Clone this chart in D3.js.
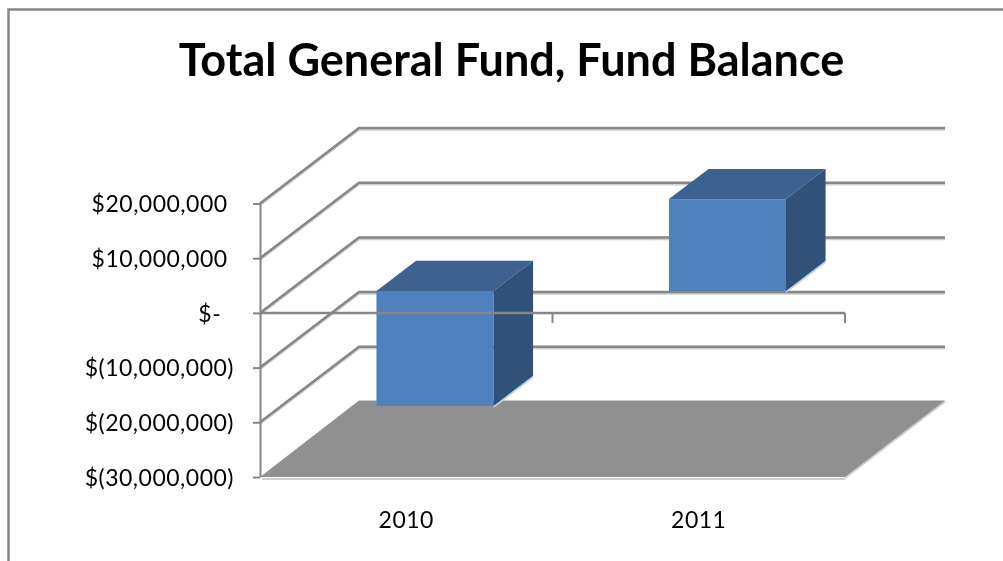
<!DOCTYPE html>
<html>

<head>
  <title>Total General Fund, Fund Balance</title>
  <script src="https://cdnjs.cloudflare.com/ajax/libs/d3/7.8.5/d3.min.js"></script>
</head>

<body style="margin: 0; background-color: #ffffff;">
  <!-- the reference is a soft upscaled picture, hence the small blur -->
  <svg width="1003" height="561" id="mainsvg" style="display: block; background-color: #ffffff; filter: blur(0.4px);"></svg>
  <script>
    const title = 'Total General Fund, Fund Balance';
    const categories = ['2010', '2011'];
    const values = [-21000000, 16800000];
    const yTicks = [20000000, 10000000, 0, -10000000, -20000000, -30000000];
    const yTickLabels = ['$20,000,000 ', '$10,000,000 ', '$-  ', '$(10,000,000)', '$(20,000,000)', '$(30,000,000)'];

    const svg = d3.select('#mainsvg');
    const fontFamily = 'Lato, Carlito, sans-serif';
    const lineColor = '#868686';
    const shadowColor = '#cfcfcf';

    // front plane of the 3d box
    const xScale = d3.scaleBand().domain(categories).range([260, 845]);
    const yScale = d3.scaleLinear().domain([-30000000, 20000000]).range([477, 203.5]);

    // depth: 0 = front of the box, 1 = back wall
    const depthX = d3.scaleLinear().domain([0, 1]).range([0, 99]);
    const depthY = d3.scaleLinear().domain([0, 1]).range([0, -75.5]);
    const backRight = 945;
    const barWidth = 0.4;
    const barDepth = [0.29, 0.69];

    const line = d3.line();

    // outer frame, only top and left are inside the crop
    svg.append('path')
      .attr('d', line([[8.5, 561], [8.5, 9.5], [1003, 9.5]]))
      .attr('fill', 'none')
      .attr('stroke', lineColor)
      .attr('stroke-width', 2.5);

    // floor
    const floorY = yScale(-30000000);
    svg.append('path')
      .attr('d', line([[845, floorY + 2], [262, floorY + 2]]))
      .attr('stroke', shadowColor)
      .attr('stroke-width', 2);
    svg.append('path')
      .attr('d', line([[845, floorY + 1], [backRight, floorY + depthY(1)]]))
      .attr('stroke', shadowColor)
      .attr('stroke-width', 2);
    svg.append('path')
      .attr('d', line([
        [xScale.range()[0], floorY],
        [xScale.range()[1], floorY],
        [backRight, floorY + depthY(1) - 1],
        [xScale.range()[0] + depthX(1), floorY + depthY(1) - 1]
      ]) + 'Z')
      .attr('fill', '#909090');

    // gridlines: diagonal on the side wall, then flat along the back wall
    const gridTicks = yTicks.filter(d => d !== -30000000);
    const gridPoints = d => [
      [xScale.range()[0], yScale(d)],
      [xScale.range()[0] + depthX(1), yScale(d) + depthY(1)],
      [backRight, yScale(d) + depthY(1)]
    ];
    svg.append('g').selectAll('path').data(gridTicks).join('path')
      .attr('d', d => line(gridPoints(d)))
      .attr('transform', 'translate(0, 1.5)')
      .attr('fill', 'none')
      .attr('stroke', shadowColor)
      .attr('stroke-width', 2.5);
    svg.append('g').selectAll('path').data(gridTicks).join('path')
      .attr('d', d => line(gridPoints(d)))
      .attr('fill', 'none')
      .attr('stroke', lineColor)
      .attr('stroke-width', 2.5);

    // bars, each one has a front, top and right face
    const barData = categories.map((c, i) => {
      const mid = xScale(c) + xScale.bandwidth() / 2;
      const half = xScale.bandwidth() * barWidth / 2;
      return {
        x0: mid - half + depthX(barDepth[0]),
        x1: mid + half + depthX(barDepth[0]),
        yTop: yScale(Math.max(values[i], 0)) + depthY(barDepth[0]),
        yBottom: yScale(Math.min(values[i], 0)) + depthY(barDepth[0])
      };
    });
    const backDx = depthX(barDepth[1] - barDepth[0]);
    const backDy = depthY(barDepth[1] - barDepth[0]);

    const bars = svg.append('g').selectAll('g').data(barData).join('g');
    bars.append('path')
      .attr('d', d => line([[d.x1, d.yBottom + 1], [d.x1 + backDx, d.yBottom + backDy + 1]]))
      .attr('stroke', '#c3cfdf')
      .attr('stroke-width', 2);
    bars.append('path')
      .attr('d', d => line([[d.x0, d.yTop], [d.x1, d.yTop], [d.x1 + backDx, d.yTop + backDy], [d.x0 + backDx, d.yTop + backDy]]) + 'Z')
      .attr('fill', '#3d628f');
    bars.append('path')
      .attr('d', d => line([[d.x1, d.yTop], [d.x1 + backDx, d.yTop + backDy], [d.x1 + backDx, d.yBottom + backDy], [d.x1, d.yBottom]]) + 'Z')
      .attr('fill', '#315278');
    bars.append('rect')
      .attr('x', d => d.x0)
      .attr('y', d => d.yTop)
      .attr('width', d => d.x1 - d.x0)
      .attr('height', d => d.yBottom - d.yTop)
      .attr('fill', '#4f81bd');

    // zero line of the x axis runs over the bars, ticks sit on the category edges
    svg.append('path')
      .attr('d', line([[xScale.range()[0], yScale(0)], [xScale.range()[1], yScale(0)]]))
      .attr('stroke', lineColor)
      .attr('stroke-width', 2.5);
    svg.append('g').selectAll('path').data(categories).join('path')
      .attr('d', d => line([[xScale(d) + xScale.bandwidth(), yScale(0)], [xScale(d) + xScale.bandwidth(), yScale(0) + 10]]))
      .attr('stroke', lineColor)
      .attr('stroke-width', 2);

    // y axis
    const yAxis = d3.axisLeft(yScale)
      .tickValues(yTicks)
      .tickFormat((d, i) => yTickLabels[i])
      .tickSize(7)
      .tickSizeOuter(0)
      .tickPadding(19);
    const yAxisGroup = svg.append('g')
      .attr('transform', `translate(${xScale.range()[0]}, 0)`)
      .call(yAxis);
    yAxisGroup.selectAll('.domain, line')
      .attr('stroke', lineColor)
      .attr('stroke-width', 2);
    yAxisGroup.selectAll('text')
      .attr('font-family', fontFamily)
      .attr('font-size', 23)
      .attr('letter-spacing', 0.5)
      .attr('y', 1)
      .attr('fill', '#000000')
      .style('white-space', 'pre');

    // category labels
    const xAxis = d3.axisBottom(xScale).tickSize(0).tickPadding(35);
    const xAxisGroup = svg.append('g')
      .attr('transform', `translate(0, ${floorY})`)
      .call(xAxis);
    xAxisGroup.select('.domain').remove();
    xAxisGroup.selectAll('text')
      .attr('font-family', fontFamily)
      .attr('font-size', 23)
      .attr('letter-spacing', 0.5)
      .attr('fill', '#000000');

    svg.append('text')
      .attr('x', 511.5)
      .attr('y', 76)
      .attr('text-anchor', 'middle')
      .attr('font-family', fontFamily)
      .attr('font-size', 45)
      .attr('font-weight', 700)
      .attr('fill', '#000000')
      .text(title);
  </script>
</body>

</html>
